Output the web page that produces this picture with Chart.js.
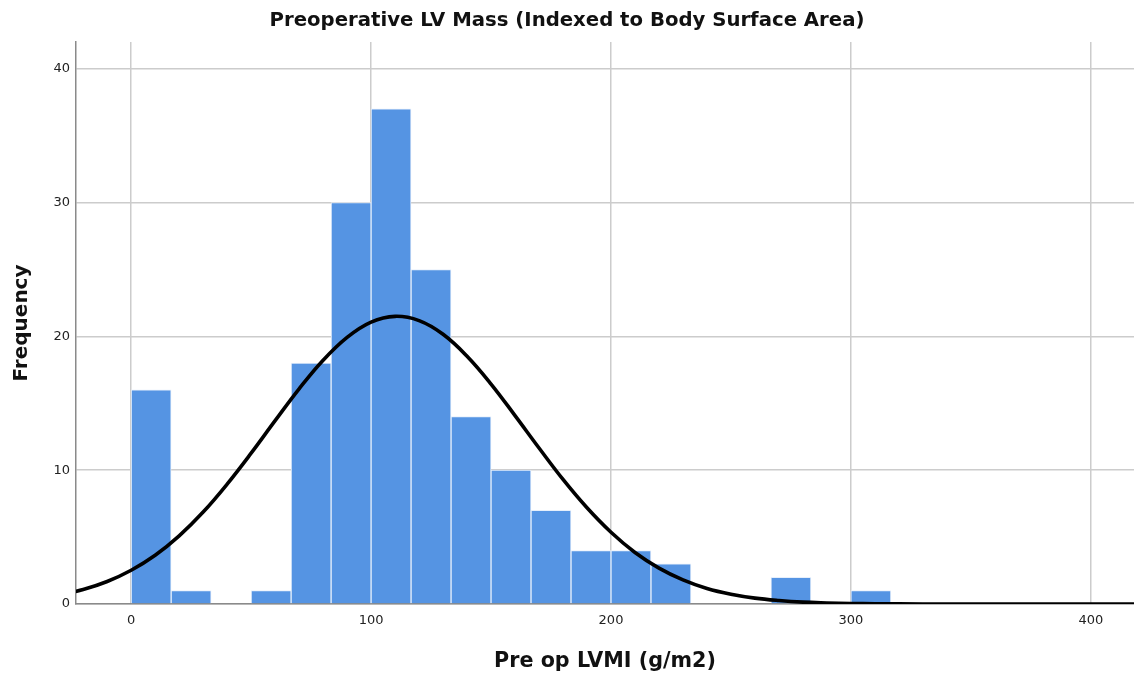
<!DOCTYPE html>
<html>
<head>
<meta charset="utf-8">
<script src="https://cdn.jsdelivr.net/npm/chart.js@4.4.1/dist/chart.umd.min.js"></script>
<style>
  html, body { margin: 0; padding: 0; background: #ffffff; }
  #wrap { width: 1134px; height: 674px; position: relative; }
</style>
</head>
<body>
<div id="wrap"><canvas id="c" width="1134" height="674"></canvas></div>
<script>
// Histogram bin centres (bin width 16.67 g/m2)
const binCenters = [8.33, 25, 41.67, 58.33, 75, 91.67, 108.33, 125, 141.67, 158.33, 175, 191.67, 208.33, 225, 241.67, 258.33, 275, 291.67, 308.33];
// Frequencies
const frequencies = [16, 1, 0, 1, 18, 30, 37, 25, 14, 10, 7, 4, 4, 3, 0, 0, 2, 0, 1];
// Normal curve
const curveX = [-30, -20, -10, 0, 10, 20, 30, 40, 50, 60, 70, 80, 90, 100, 110, 120, 130, 140, 150, 160, 170, 180, 190, 200, 210, 220, 230, 240, 250, 260, 270, 280, 290, 300, 310, 320, 340, 360, 380, 400, 420, 430];
const curveY = [0.67, 1.08, 1.68, 2.52, 3.64, 5.09, 6.87, 8.96, 11.27, 13.70, 16.08, 18.22, 19.93, 21.07, 21.50, 21.18, 20.16, 18.52, 16.44, 14.08, 11.66, 9.31, 7.19, 5.36, 3.85, 2.68, 1.80, 1.16, 0.73, 0.44, 0.26, 0.14, 0.08, 0.04, 0.02, 0.01, 0, 0, 0, 0, 0, 0];
const xTicks = [0, 100, 200, 300, 400];
const yTicks = [0, 10, 20, 30, 40];

const barData = binCenters.map((x, i) => ({ x: x, y: frequencies[i] })).filter(p => p.y > 0);
const lineData = curveX.map((x, i) => ({ x: x, y: curveY[i] }));

new Chart(document.getElementById('c'), {
  data: {
    datasets: [
      {
        type: 'line',
        data: lineData,
        borderColor: '#000000',
        borderWidth: 3.6,
        pointRadius: 0,
        fill: false,
        tension: 0.4,
        order: 0
      },
      {
        type: 'bar',
        data: barData,
        backgroundColor: '#5594e3',
        borderColor: '#e6effb',
        borderWidth: 1,
        borderSkipped: 'bottom',
        barPercentage: 1,
        categoryPercentage: 1,
        order: 1
      }
    ]
  },
  options: {
    responsive: false,
    animation: false,
    layout: { padding: { left: 0, right: 0, top: 0, bottom: 0 } },
    plugins: {
      legend: { display: false },
      tooltip: { enabled: false },
      title: {
        display: true,
        text: 'Preoperative LV Mass (Indexed to Body Surface Area)',
        color: '#111111',
        font: { family: 'DejaVu Sans', size: 19.7, weight: 'bold' },
        padding: { top: 9, bottom: 9.4 }
      }
    },
    scales: {
      x: {
        type: 'linear',
        offset: false,
        min: -23,
        max: 418,
        afterBuildTicks: s => { s.ticks = xTicks.map(v => ({ value: v })); },
        afterFit: s => { s.height = 70; },
        ticks: {
          color: '#222222',
          font: { family: 'DejaVu Sans', size: 13 },
          padding: 9,
          maxRotation: 0,
          callback: v => String(v)
        },
        grid: { color: '#cccccc', lineWidth: 1.5, drawTicks: false, offset: false },
        border: { display: true, color: '#8a8a8a', width: 1.5 },
        title: {
          display: true,
          text: 'Pre op LVMI (g/m2)',
          color: '#111111',
          font: { family: 'DejaVu Sans', size: 20.7, weight: 'bold' },
          padding: { top: 11, bottom: 0 }
        }
      },
      y: {
        type: 'linear',
        min: 0,
        max: 42,
        afterBuildTicks: s => { s.ticks = yTicks.map(v => ({ value: v })); },
        afterFit: s => { s.width = 76; },
        ticks: {
          color: '#222222',
          font: { family: 'DejaVu Sans', size: 13 },
          padding: 6,
          callback: v => String(v)
        },
        grid: { color: '#cccccc', lineWidth: 1.5, drawTicks: false },
        border: { display: true, color: '#8a8a8a', width: 1.5 },
        title: {
          display: true,
          text: 'Frequency',
          color: '#111111',
          font: { family: 'DejaVu Sans', size: 20, weight: 'bold' },
          padding: { top: 10, bottom: 0 }
        }
      }
    }
  }
});
</script>
</body>
</html>
